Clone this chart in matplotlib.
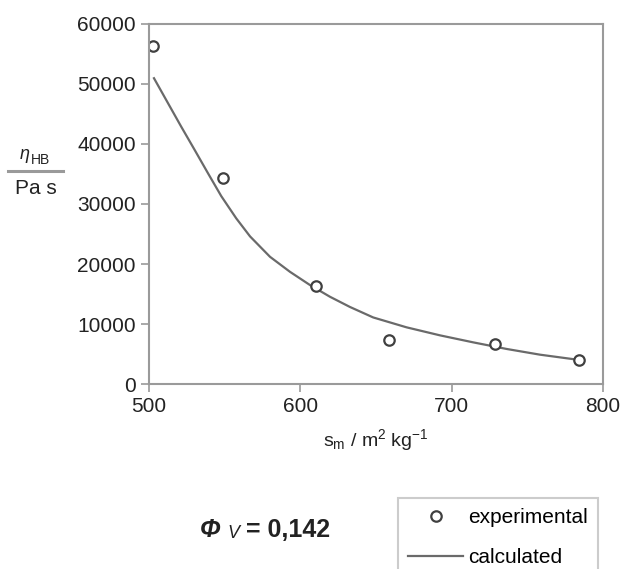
import matplotlib
matplotlib.use('Agg')
import matplotlib.pyplot as plt
from matplotlib.lines import Line2D

plt.rcParams['font.family'] = ['Liberation Sans', 'DejaVu Sans']
plt.rcParams['mathtext.fontset'] = 'custom'
plt.rcParams['mathtext.rm'] = 'Liberation Sans'
plt.rcParams['mathtext.it'] = 'Liberation Sans:italic'

# experimental points
exp_s = [502.6, 548.7, 610.4, 658.6, 728.7, 784.2]
exp_eta = [56300, 34400, 16300, 7300, 6700, 4000]

# calculated curve
calc_s = [503.3, 512.6, 521.3, 530.2, 539.0, 547.8, 557.7, 566.8, 580.0,
          593.2, 606.4, 619.6, 632.8, 648.2, 670.3, 692.3, 714.3, 736.4,
          758.4, 784.9]
calc_eta = [50950, 46780, 42880, 39000, 35120, 31300, 27600, 24600, 21200,
            18700, 16500, 14550, 12850, 11100, 9450, 8120, 6950, 5850,
            4900, 4000]

xticks = [500, 600, 700, 800]
yticks = [0, 10000, 20000, 30000, 40000, 50000, 60000]

grey = '#9a9a9a'
ink = '#222222'

fig = plt.figure(figsize=(6.26, 5.69), dpi=100)
ax = fig.add_axes([0.238, 0.325, 0.725, 0.633])

ax.plot(calc_s, calc_eta, color='#6a6a6a', lw=1.6, label='calculated')
ax.plot(exp_s, exp_eta, ls='none', marker='o', ms=7.5, mfc='white',
        mec='#404040', mew=1.6, label='experimental')

ax.set_xlim(500, 800)
ax.set_ylim(0, 60000)
ax.set_xticks(xticks)
ax.set_yticks(yticks)
ax.tick_params(labelsize=15, colors=grey, labelcolor=ink,
               length=6, width=1.2, direction='out')
for sp in ax.spines.values():
    sp.set_color(grey)
    sp.set_linewidth(1.5)

ax.set_xlabel(r'$\mathregular{s_m\ /\ m^2\ kg^{-1}}$', fontsize=14,
              color=ink, labelpad=8)

# y label as a fraction
fig.text(25 / 626, 1 - 155 / 569, 'η', fontsize=13, style='italic',
         color=ink, ha='center', va='center')
fig.text(31 / 626, 1 - 160 / 569, 'HB', fontsize=10, color=ink,
         ha='left', va='center')
fig.add_artist(Line2D([8 / 626, 63 / 626], [1 - 171 / 569, 1 - 171 / 569],
                      color=grey, lw=2.2, transform=fig.transFigure))
fig.text(36 / 626, 1 - 189 / 569, 'Pa s', fontsize=15, color=ink,
         ha='center', va='center')

# volume fraction note
fig.text(200 / 626, 1 - 530 / 569, 'Φ', fontsize=18, fontweight='bold',
         style='italic', color=ink, ha='left', va='center')
fig.text(227 / 626, 1 - 533 / 569, 'V', fontsize=13, style='italic',
         color=ink, ha='left', va='center')
fig.text(246 / 626, 1 - 530 / 569, '= 0,142', fontsize=18, fontweight='bold',
         color=ink, ha='left', va='center')

handles, labels = ax.get_legend_handles_labels()
leg = fig.legend([handles[1], handles[0]], [labels[1], labels[0]],
                 loc='upper left', bbox_to_anchor=(398 / 626, 1 - 498 / 569),
                 fontsize=15, handlelength=2.6, handletextpad=0.25,
                 labelspacing=1.0, borderpad=0.5, borderaxespad=0,
                 fancybox=False, framealpha=1)
leg.get_frame().set_edgecolor('#cccccc')
leg.get_frame().set_linewidth(1.5)

fig.savefig('out.png', dpi=100)
